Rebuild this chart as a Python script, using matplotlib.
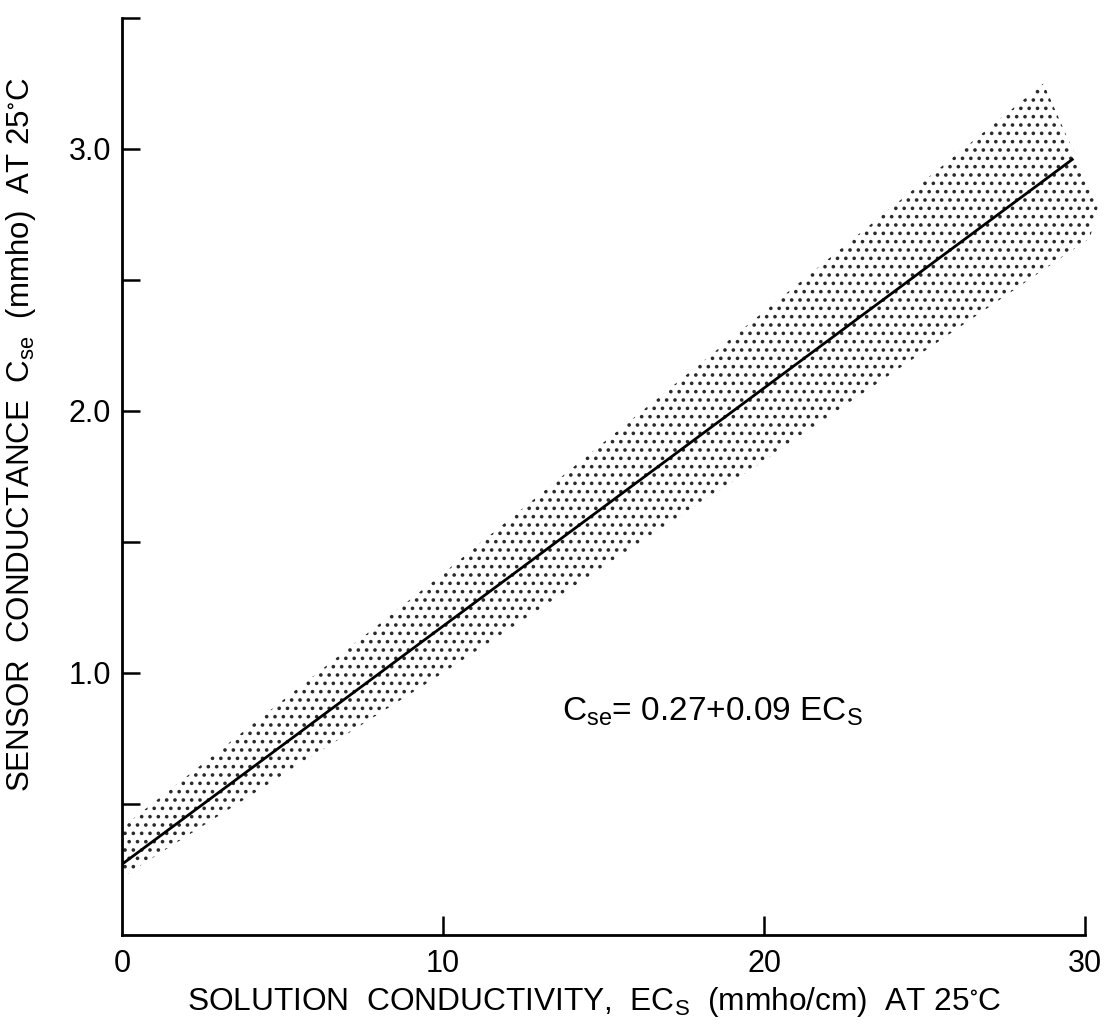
import matplotlib
matplotlib.use("Agg")
import matplotlib.pyplot as plt

plt.rcParams['font.family'] = ['Liberation Sans', 'DejaVu Sans']
plt.rcParams['mathtext.fontset'] = 'custom'
plt.rcParams['mathtext.rm'] = 'Liberation Sans'
plt.rcParams['hatch.linewidth'] = 1.4

# ---- data ----
line_x = [0.0, 29.6]
line_y = [0.27, 2.96]

band_upper_x = [0.0, 10.0, 20.0, 28.7]
band_upper_y = [0.41, 1.38, 2.38, 3.25]
band_end_x = [30.4, 30.15]
band_end_y = [2.78, 2.66]
band_lower_x = [20.0, 10.0, 0.0]
band_lower_y = [1.81, 1.00, 0.22]

x_ticks = [0, 10, 20, 30]
x_ticklabels = ['0', '10', '20', '30']
y_ticks = [0.5, 1.0, 1.5, 2.0, 2.5, 3.0, 3.5]
y_ticklabels = ['', '1.0', '', '2.0', '', '3.0', '']

equation = r'$\mathregular{C_{se}}$= 0.27+0.09 EC$\mathregular{_S}$'
x_label = r'SOLUTION  CONDUCTIVITY,  EC$\mathregular{_S}$  (mmho/cm)  AT 25$\mathregular{^{\circ}}$C'
y_label = r'SENSOR  CONDUCTANCE  C$\mathregular{_{se}}$  (mmho)  AT 25$\mathregular{^{\circ}}$C'

# ---- figure ----
fig = plt.figure(figsize=(11.06, 10.26), dpi=100)
ax = fig.add_axes([0.1103, 0.0887, 0.8897, 0.8938])
ax.set_xlim(0, 30.65)
ax.set_ylim(0, 3.5)

poly_x = band_upper_x + band_end_x + band_lower_x
poly_y = band_upper_y + band_end_y + band_lower_y
ax.fill(poly_x, poly_y, facecolor='none', edgecolor='#2a2a2a',
        linewidth=0, hatch='..', zorder=1)

ax.plot(line_x, line_y, color='black', linewidth=2.0, zorder=3)

ax.text(13.7, 0.82, equation, fontsize=24, color='black', zorder=4)

for s in ['top', 'right']:
    ax.spines[s].set_visible(False)
ax.spines['left'].set_linewidth(2)
ax.spines['bottom'].set_linewidth(2)
ax.spines['bottom'].set_bounds(0, 30)
ax.spines['left'].set_bounds(0, 3.5)

ax.set_xticks(x_ticks)
ax.set_xticklabels(x_ticklabels)
ax.set_yticks(y_ticks)
ax.set_yticklabels(y_ticklabels)
ax.tick_params(axis='x', direction='in', length=14, width=1.8, labelsize=22, pad=10)
ax.tick_params(axis='y', direction='in', length=13, width=1.8, labelsize=22, pad=8)
ax.xaxis.get_major_ticks()[0].tick1line.set_visible(False)

ax.set_xlabel(x_label, fontsize=22.8, labelpad=4)
ax.xaxis.set_label_coords(0.48, -0.055)
ax.set_ylabel(y_label, fontsize=22.5, labelpad=4)
ax.yaxis.set_label_coords(-0.085, 0.545)

fig.savefig('out.png', dpi=100, facecolor='white')
